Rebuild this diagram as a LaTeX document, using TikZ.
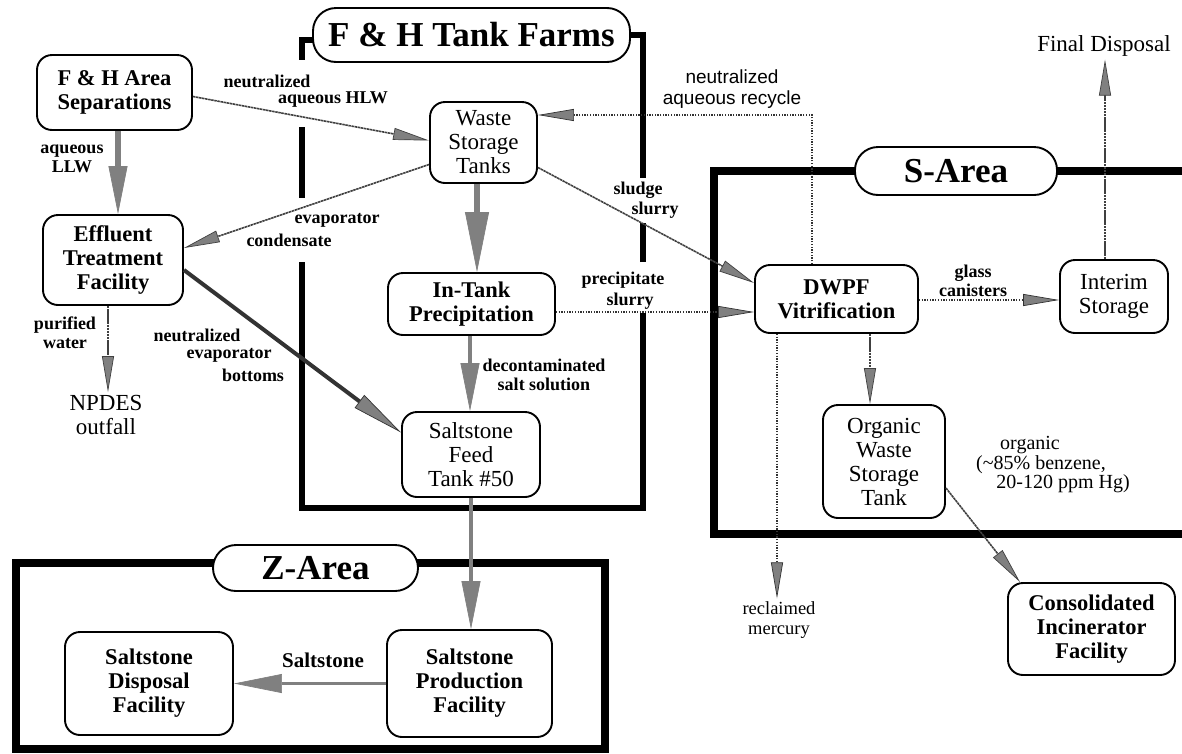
\documentclass[tikz,border=0pt]{standalone}
\usepackage{fontspec}
\setmainfont{Liberation Serif}
\newfontfamily\helv{Liberation Sans}
\usetikzlibrary{arrows.meta,calc}
\begin{document}
\begin{tikzpicture}[x=1pt,y=-1pt,
  box/.style={draw, line width=1.9pt, rounded corners=15pt, fill=white, align=center, inner sep=0pt,
    font=\fontsize{23}{24}\selectfont},
  bbox/.style={box, font=\fontsize{22.5}{24}\selectfont\bfseries},
  ttl/.style={draw, line width=1.9pt, rounded corners=23pt, fill=white, inner sep=0pt,
    font=\fontsize{35}{36}\selectfont\bfseries},
  lab/.style={align=center, inner sep=0pt, font=\fontsize{18}{19}\selectfont\bfseries},
  rlab/.style={align=center, inner sep=0pt, font=\fontsize{23}{24}\selectfont},
  tfframe/.style={line width=5.5pt, line join=miter},
  bigframe/.style={line width=8pt, line join=miter},
  conn/.style={draw=black!75, line width=1.6pt, dash pattern=on 2.5pt off 0.6pt},
  dots/.style={draw=black!80, line width=1.5pt, dash pattern=on 1.3pt off 1.4pt},
  heavy/.style={draw=black!50, line width=6pt},
  medium/.style={draw=black!50, line width=4.5pt},
  darkheavy/.style={draw=black!80, line width=4pt},
  tipS/.style={-{Triangle[length=36pt,width=12pt,fill=black!50,line width=0.7pt]}},
  tipN/.style={-{Triangle[length=52pt,width=16pt,fill=black!50,line width=0.7pt]}},
  tipM/.style={-{Triangle[length=48pt,width=19pt,fill=black!50,line width=0.7pt]}},
  tipL/.style={-{Triangle[length=60pt,width=24pt,fill=black!50,line width=0.7pt]}}
]
\useasboundingbox (0,0) rectangle (1182,753);

% ---------- area frames ----------
\draw[tfframe] (315,40) -- (302,40) -- (302,60);
\draw[tfframe] (302,127) -- (302,198);
\draw[tfframe] (302,262) -- (302,508) -- (643,508) -- (643,313);
\draw[tfframe] (643,262) -- (643,223);
\draw[tfframe] (643,178) -- (643,35) -- (628,35);

\draw[bigframe] (857,171) -- (714,171) -- (714,534) -- (1182,534);
\draw[bigframe] (1055,171) -- (1182,171);

\draw[bigframe] (215,563) -- (16,563) -- (16,749) -- (605,749) -- (605,563) -- (416,563);

% ---------- titles ----------
\node[ttl, minimum width=317pt, minimum height=54pt] (tf) at (471.5,35) {F \& H Tank Farms};
\node[ttl, minimum width=202pt, minimum height=48pt] (sa) at (956,171) {S-Area};
\node[ttl, minimum width=205pt, minimum height=46pt] (za) at (315.5,568) {Z-Area};

% ---------- process nodes ----------
\node[bbox, minimum width=155pt, minimum height=75pt] (sep) at (114.5,92.5) {F \& H Area\\Separations};
\node[bbox, minimum width=140pt, minimum height=90pt] (eff) at (113,260) {Effluent\\Treatment\\Facility};
\node[box, minimum width=107pt, minimum height=81pt] (wst) at (483.5,142.5) {Waste\\Storage\\Tanks};
\node[bbox, minimum width=167pt, minimum height=62pt] (itp) at (471.5,304) {In-Tank\\Precipitation};
\node[box, minimum width=138pt, minimum height=85pt] (sft) at (471,454.5) {Saltstone\\Feed\\Tank \#50};
\node[bbox, minimum width=163pt, minimum height=68pt] (dwpf) at (836.5,299) {DWPF\\Vitrification};
\node[box, minimum width=108pt, minimum height=73pt] (int) at (1114,296.5) {Interim\\Storage};
\node[box, minimum width=122pt, minimum height=113pt] (ows) at (884,461.5) {Organic\\Waste\\Storage\\Tank};
\node[bbox, minimum width=167pt, minimum height=92pt] (cif) at (1091.5,629) {Consolidated\\Incinerator\\Facility};
\node[bbox, minimum width=168pt, minimum height=103pt] (sdf) at (149,683.5) {Saltstone\\Disposal\\Facility};
\node[bbox, minimum width=165pt, minimum height=107pt] (spf) at (469.5,683.5) {Saltstone\\Production\\Facility};

% ---------- end points (plain text) ----------
\node[rlab, inner sep=3pt] (npdes) at (106,415) {NPDES\\outfall};
\node[rlab, inner sep=3pt] (final) at (1104,46) {Final Disposal};
\node[align=center, inner sep=3pt, font=\fontsize{18.5}{20}\selectfont] (merc) at (779,620) {reclaimed\\mercury};

% ---------- connectors ----------
\draw[conn, tipS] ([yshift=-4pt]sep.east) -- ([yshift=2pt]wst.west);
\draw[conn, tipS] ([yshift=-22pt]wst.west) -- ([yshift=12pt]eff.east);
\draw[heavy, tipM] ([xshift=3.5pt]sep.south) -- ([xshift=3.5pt]sep.south |- eff.north);
\draw[conn, tipS] ([xshift=-5pt]eff.south) -- ([xshift=-5pt]eff.south |- npdes.north);
\draw[darkheavy, tipN] ([yshift=-10pt]eff.east) -- ([yshift=22pt]sft.west);
\draw[heavy, tipL] ([xshift=-6.5pt]wst.south) -- ([xshift=-6.5pt]wst.south |- itp.north);
\draw[medium, tipM] ([xshift=-1.5pt]itp.south) -- ([xshift=-1.5pt]itp.south |- sft.north);
\draw[dots, tipS] ([yshift=-8pt]itp.east) -- ([yshift=-8pt]itp.east -| dwpf.west);
\draw[conn, tipS] ([yshift=-25pt]wst.east) -- ([yshift=16pt]dwpf.west);
\draw[dots, tipS] ([xshift=-24.5pt]dwpf.north) |- ([yshift=27.5pt]wst.east);
\draw[dots, tipS] ([yshift=-1pt]dwpf.east) -- ([yshift=-1pt]dwpf.east -| int.west);
\draw[conn, tipS] ([xshift=-9pt]int.north) -- ([xshift=-9pt]int.north |- final.south);
\draw[conn, tipS] ([xshift=33.5pt]dwpf.south) -- ([xshift=33.5pt]dwpf.south |- ows.north);
\draw[dots, tipS] ([xshift=-59.5pt]dwpf.south) -- ([xshift=-59.5pt]dwpf.south |- merc.north);
\draw[conn, tipS] ([yshift=-26.5pt]ows.east) -- ([xshift=-71.5pt]cif.north);
\draw[medium, tipM] (sft.south) -- (sft.south |- spf.north);
\draw[draw=black!50, line width=3pt, tipM] (spf.west) -- (sdf.east);

% ---------- connector labels ----------
\node[lab] (l1a) at (267,81) {neutralized};
\node[lab] (l1b) at (333,100) {aqueous HLW};
\node[lab] (l2) at (72,159) {aqueous\\LLW};
\node[lab] (l3a) at (337,220) {evaporator};
\node[lab] (l3b) at (289,240) {condensate};
\node[lab] (l4) at (65,333) {purified\\water};
\node[lab] (l5a) at (197,335) {neutralized};
\node[lab] (l5b) at (229,355) {evaporator};
\node[lab] (l5c) at (253,375) {bottoms};
\node[lab] (l6) at (544,375) {decontaminated\\salt solution};
\node[align=center, inner sep=0pt, font=\helv\fontsize{19}{21}\selectfont] (l7) at (732,89) {neutralized\\aqueous recycle};
\node[lab] (l8a) at (638,190) {sludge};
\node[lab] (l8b) at (655,210) {slurry};
\node[lab] (l9a) at (623,280) {precipitate};
\node[lab] (l9b) at (630,301) {slurry};
\node[lab] (l10) at (973,281) {glass\\canisters};
\node[inner sep=0pt, font=\fontsize{20}{20}\selectfont] (l11a) at (1030,445) {organic};
\node[inner sep=0pt, font=\fontsize{20}{20}\selectfont] (l11b) at (1041,465) {(\textasciitilde 85\% benzene,};
\node[inner sep=0pt, font=\fontsize{20}{20}\selectfont] (l11c) at (1063,484) {20-120 ppm Hg)};
\node[lab, font=\fontsize{21}{22}\selectfont\bfseries] (l12) at (323,660) {Saltstone};
\end{tikzpicture}
\end{document}
